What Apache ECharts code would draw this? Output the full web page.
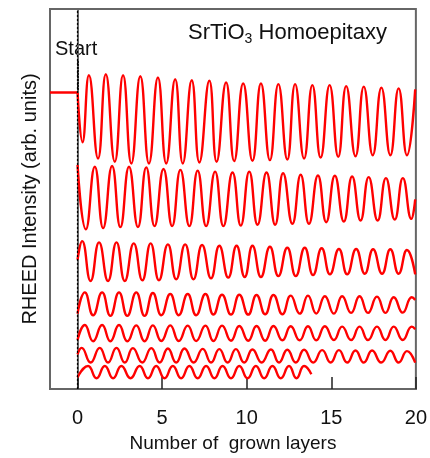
<!DOCTYPE html>
<html><head><meta charset="utf-8">
<script src="https://cdn.jsdelivr.net/npm/echarts@6/dist/echarts.min.js"></script>
<style>html,body{margin:0;padding:0;background:#fff}#c{width:430px;height:458px}</style>
</head><body><div id="c"></div>
<script>
// x ticks (number of grown layers)
const xTicks = [0, 5, 10, 15, 20];
// pre-growth intensity level of the top trace
const baseline = [[-1.63, 302.7], [0, 302.7]];
// extrema: [layers, intensity (arb.)]
const curve1 = [[0,302.7],[0.29,252],[0.67,320.3],[1.21,235.3],[1.67,321.3],[2.20,232],[2.69,320.3],[3.18,230.3],[3.71,319.3],[4.22,230.3],[4.75,318],[5.24,230.3],[5.77,316.3],[6.22,230.3],[6.75,315.3],[7.20,231.3],[7.79,314.7],[8.22,232],[8.78,313],[9.26,232.7],[9.79,312],[10.34,233],[10.84,312],[11.37,233.7],[11.87,311.3],[12.40,234.3],[12.86,311.3],[13.39,235.3],[13.88,310.3],[14.37,236.3],[14.90,310.3],[15.41,237],[15.88,309.3],[16.43,237.7],[16.92,308.7],[17.45,238.7],[17.96,307.7],[18.49,238.7],[18.98,307],[19.47,238.7],[19.96,306]];
const curve2 = [[0,228.7],[0.49,163],[1.02,227],[1.51,164.3],[2.04,227.7],[2.53,165.3],[3.04,227],[3.57,165.3],[4.06,226.3],[4.55,166.3],[5.08,224.7],[5.59,166.3],[6.08,223.7],[6.61,166.3],[7.10,223],[7.60,166.3],[8.13,222],[8.62,166.3],[9.16,221],[9.65,166.8],[10.15,222],[10.64,167.7],[11.17,221],[11.68,167.7],[12.15,220.3],[12.70,168.7],[13.19,218.7],[13.68,168.7],[14.21,218],[14.70,170.3],[15.21,217.7],[15.74,171],[16.23,217],[16.73,172],[17.21,216.3],[17.74,172],[18.23,215.3],[18.75,173],[19.23,215.3],[19.73,173.7],[19.96,193.7]];
const curve3 = [[0,132],[0.27,151],[0.77,110.3],[1.27,149.7],[1.80,110.3],[2.30,149.7],[2.79,110.3],[3.32,148.7],[3.83,111],[4.32,148.7],[4.81,111],[5.34,147.7],[5.83,112],[6.36,147.7],[6.85,112],[7.36,147],[7.89,113],[8.38,146.3],[8.91,113.7],[9.40,146.3],[9.88,114.3],[10.34,146.3],[10.84,114.3],[11.37,145.3],[11.87,115.3],[12.40,144.3],[12.90,115.3],[13.43,144.3],[13.92,116.3],[14.43,143.7],[14.92,117],[15.45,143],[15.94,117],[16.47,143],[16.98,117.7],[17.47,142.7],[18.00,117.7],[18.49,142.7],[18.98,117.7],[19.47,142],[19.96,117]];
const curve4 = [[0,77],[0.43,98.7],[0.92,75.3],[1.45,98.7],[1.94,74.7],[2.45,98.7],[2.94,74.7],[3.47,98.7],[3.96,74.7],[4.45,98],[4.95,75.3],[5.48,97],[5.98,75.3],[6.51,97],[7.01,75.3],[7.56,97],[8.03,76],[8.54,96.3],[9.07,76],[9.56,96.3],[10.09,76],[10.58,96],[11.09,76.3],[11.58,96],[12.11,76.3],[12.60,95.3],[13.13,77],[13.62,95.3],[14.11,77],[14.62,94.7],[15.15,77],[15.64,94.7],[16.17,77.7],[16.67,94.7],[17.17,77.7],[17.70,94.3],[18.20,77.7],[18.69,93.7],[19.22,78],[19.76,93.7],[19.96,91]];
const curve5 = [[0,50],[0.43,65.3],[0.92,48.7],[1.45,65.3],[1.94,48.7],[2.45,65.3],[2.94,48.7],[3.47,65],[3.96,48.7],[4.45,65],[4.95,49],[5.48,65],[5.98,49],[6.51,64.7],[7.01,49],[7.56,64.7],[8.03,49],[8.54,64.7],[9.07,49.3],[9.56,64.3],[10.09,49.3],[10.58,64.3],[11.09,49.3],[11.58,64.3],[12.11,49.7],[12.60,64],[13.13,49.7],[13.62,64],[14.11,49.7],[14.62,64],[15.15,50],[15.64,63.7],[16.17,50],[16.67,63.7],[17.17,50],[17.70,63.7],[18.20,50],[18.69,63.7],[19.22,50],[19.76,63.7],[19.96,61]];
const curve6 = [[0,35.3],[0.24,42],[0.77,27],[1.31,42],[1.80,27],[2.30,42],[2.79,27],[3.27,41.7],[3.82,27],[4.36,41.7],[4.85,27],[5.34,41.3],[5.83,27],[6.32,41.3],[6.86,27],[7.40,41],[7.89,27],[8.38,40.7],[8.87,27],[9.36,40.7],[9.85,27],[10.34,40.3],[10.88,27],[11.43,40.3],[11.91,27],[12.40,40],[12.90,27],[13.39,40],[13.93,27],[14.46,39.7],[14.96,27],[15.45,39.7],[15.94,27],[16.43,39.3],[16.92,27],[17.41,39.3],[17.95,27],[18.49,39],[18.98,27],[19.47,38.7],[19.96,27]];
const curve7 = [[0,12],[0.62,23.5],[1.12,11],[1.61,23.5],[2.10,11],[2.59,23.5],[3.13,11],[3.67,23.5],[4.16,11],[4.65,23.5],[5.14,11],[5.63,23.5],[6.12,11],[6.61,23.5],[7.10,11],[7.60,23.5],[8.09,11],[8.57,23.5],[9.07,11],[9.56,23.5],[10.05,11],[10.54,23.5],[11.03,11],[11.52,23.5],[12.01,11],[12.50,23.5],[12.94,11],[13.39,23.5],[13.82,15]];
// "Start" arrow along x = 0: [from, to] intensity
const startArrow = [335, 305];

const FONT = '"Liberation Sans", Arial, sans-serif';
const RED = '#ff0000';
const curves = [curve1, curve2, curve3, curve4, curve5, curve6, curve7];

const series = [{
  type: 'line', data: baseline, showSymbol: false, silent: true,
  lineStyle: { color: RED, width: 2.4 },
  markLine: {
    silent: true, symbol: ['none', 'none'], animation: false,
    label: { show: false },
    lineStyle: { color: '#000', type: [2, 2], width: 1.2 },
    data: [{ xAxis: 0 }]
  }
}];
curves.forEach((c, i) => {
  const s = {
    type: 'line', data: c, showSymbol: false, silent: true,
    smooth: 0.5,
    lineStyle: { color: RED, width: 2.4 }
  };
  if (i === 0) {
    s.markLine = {
      silent: true, animation: false, symbol: ['none', 'arrow'], symbolSize: [0, 8],
      label: { show: false },
      lineStyle: { color: '#000', type: [2, 1], width: 1.5 },
      data: [[{ coord: [0, startArrow[0]] }, { coord: [0, startArrow[1]] }]]
    };
  }
  series.push(s);
});

const chart = echarts.init(document.getElementById('c'), null, { renderer: 'canvas' });
chart.setOption({
  animation: false,
  backgroundColor: '#fff',
  title: {
    text: 'SrTiO{s|3} Homoepitaxy', left: 183, top: 15,
    textStyle: {
      fontSize: 22, fontWeight: 'normal', color: '#111', fontFamily: FONT,
      rich: { s: { fontSize: 14, fontFamily: FONT, color: '#111', padding: [12, 0, 0, 0] } }
    }
  },
  graphic: [{
    type: 'text', left: 55, top: 39,
    style: { text: 'Start', font: '20px ' + FONT, fill: '#111' }
  }],
  grid: { left: 50, right: 13, top: 9, bottom: 61, show: true, borderColor: '#666', borderWidth: 2 },
  xAxis: {
    type: 'value', min: -1.63, max: 20,
    axisLine: { show: true, onZero: false, lineStyle: { color: '#666', width: 2 } },
    splitLine: { show: false },
    axisTick: { show: true, inside: true, length: 12, customValues: xTicks, lineStyle: { color: '#222', width: 1.5 } },
    axisLabel: { customValues: xTicks, fontSize: 20, color: '#111', margin: 19, fontFamily: FONT },
    name: 'Number of  grown layers', nameLocation: 'middle', nameGap: 45,
    nameTextStyle: { fontSize: 19, color: '#111', fontFamily: FONT }
  },
  yAxis: {
    type: 'value', min: 0, max: 388,
    axisLine: { show: true, lineStyle: { color: '#666', width: 2 } },
    axisTick: { show: false }, axisLabel: { show: false }, splitLine: { show: false },
    name: 'RHEED Intensity (arb. units)', nameLocation: 'middle', nameGap: 10,
    nameTextStyle: { fontSize: 20, color: '#111', fontFamily: FONT }
  },
  series: series
});
</script>
</body></html>
